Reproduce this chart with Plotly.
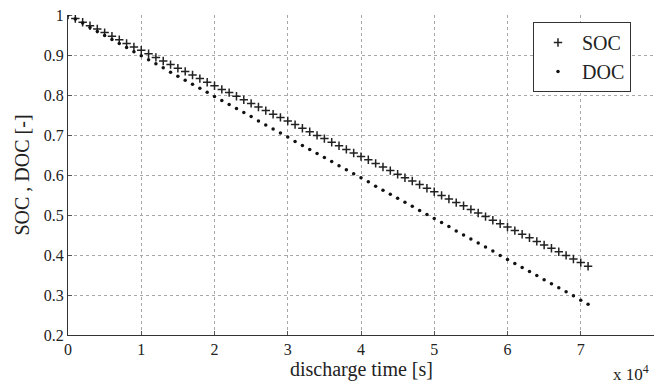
import plotly.graph_objects as go

time_s = [0, 1000, 2000, 3000, 4000, 5000, 6000, 7000, 8000, 9000,
          10000, 11000, 12000, 13000, 14000, 15000, 16000, 17000, 18000, 19000,
          20000, 21000, 22000, 23000, 24000, 25000, 26000, 27000, 28000, 29000,
          30000, 31000, 32000, 33000, 34000, 35000, 36000, 37000, 38000, 39000,
          40000, 41000, 42000, 43000, 44000, 45000, 46000, 47000, 48000, 49000,
          50000, 51000, 52000, 53000, 54000, 55000, 56000, 57000, 58000, 59000,
          60000, 61000, 62000, 63000, 64000, 65000, 66000, 67000, 68000, 69000,
          70000, 71000]

soc = [1.000, 0.991, 0.982, 0.973, 0.965, 0.956, 0.947, 0.938, 0.929, 0.920,
       0.912, 0.903, 0.894, 0.885, 0.876, 0.867, 0.859, 0.850, 0.841, 0.832,
       0.823, 0.814, 0.806, 0.797, 0.788, 0.779, 0.770, 0.761, 0.752, 0.744,
       0.735, 0.726, 0.717, 0.708, 0.699, 0.691, 0.682, 0.673, 0.664, 0.655,
       0.646, 0.638, 0.629, 0.620, 0.611, 0.602, 0.593, 0.585, 0.576, 0.567,
       0.558, 0.549, 0.540, 0.531, 0.523, 0.514, 0.505, 0.496, 0.487, 0.478,
       0.470, 0.461, 0.452, 0.443, 0.434, 0.425, 0.417, 0.408, 0.399, 0.390,
       0.381, 0.372]

doc = [1.000, 0.990, 0.980, 0.969, 0.959, 0.949, 0.939, 0.929, 0.919, 0.908,
       0.898, 0.888, 0.878, 0.868, 0.857, 0.847, 0.837, 0.827, 0.817, 0.807,
       0.796, 0.786, 0.776, 0.766, 0.756, 0.746, 0.735, 0.725, 0.715, 0.705,
       0.695, 0.684, 0.674, 0.664, 0.654, 0.644, 0.634, 0.623, 0.613, 0.603,
       0.593, 0.583, 0.572, 0.562, 0.552, 0.542, 0.532, 0.522, 0.511, 0.501,
       0.491, 0.481, 0.471, 0.460, 0.450, 0.440, 0.430, 0.420, 0.410, 0.399,
       0.389, 0.379, 0.369, 0.359, 0.349, 0.338, 0.328, 0.318, 0.308, 0.298,
       0.287, 0.277]

x_tick_vals = [0, 10000, 20000, 30000, 40000, 50000, 60000, 70000, 80000]
x_tick_text = ["0", "1", "2", "3", "4", "5", "6", "7", "8"]
y_tick_vals = [0.2, 0.3, 0.4, 0.5, 0.6, 0.7, 0.8, 0.9, 1.0]
y_tick_text = ["0.2", "0.3", "0.4", "0.5", "0.6", "0.7", "0.8", "0.9", "1"]

FONT = "Liberation Serif, Times New Roman, serif"

fig = go.Figure()
fig.add_trace(go.Scatter(
    x=time_s, y=soc, mode="markers", name="SOC",
    marker=dict(symbol="cross-thin-open", size=6, color="#222222",
                line=dict(width=1.5, color="#222222")),
))
fig.add_trace(go.Scatter(
    x=time_s, y=doc, mode="markers", name="DOC",
    marker=dict(symbol="circle", size=3.5, color="#111111"),
))

axis_common = dict(
    showgrid=True, gridcolor="#a8a8a8", griddash="dot", gridwidth=1,
    zeroline=False, showline=True, linecolor="#333333", linewidth=1,
    ticks="inside", ticklen=4, tickcolor="#555555",
    tickfont=dict(family=FONT, size=16, color="#222222"),
    mirror=False,
)

fig.update_layout(
    width=657, height=383,
    margin=dict(l=68, r=3, t=15, b=48),
    paper_bgcolor="white", plot_bgcolor="white",
    font=dict(family=FONT, color="#222222"),
    xaxis=dict(range=[0, 80000], tickvals=x_tick_vals, ticktext=x_tick_text,
               **axis_common),
    yaxis=dict(range=[0.2, 1.0], tickvals=y_tick_vals, ticktext=y_tick_text,
               title=dict(text="SOC , DOC [-]", font=dict(family=FONT, size=20), standoff=8),
               **axis_common),
    legend=dict(x=0.7935, y=0.978, xanchor="left", yanchor="top",
                bordercolor="#333333", borderwidth=1, bgcolor="white",
                font=dict(family=FONT, size=20, color="#222222"),
                itemwidth=38),
    annotations=[
        dict(text="discharge time [s]", xref="paper", yref="paper",
             x=0.5, y=-0.108, xanchor="center", yanchor="middle",
             showarrow=False, font=dict(family=FONT, size=20, color="#222222")),
        dict(text="x 10<sup>4</sup>", xref="paper", yref="paper",
             x=0.995, y=-0.12, xanchor="right", yanchor="middle",
             showarrow=False, font=dict(family=FONT, size=17, color="#222222")),
    ],
)

fig.write_html("out.html")
